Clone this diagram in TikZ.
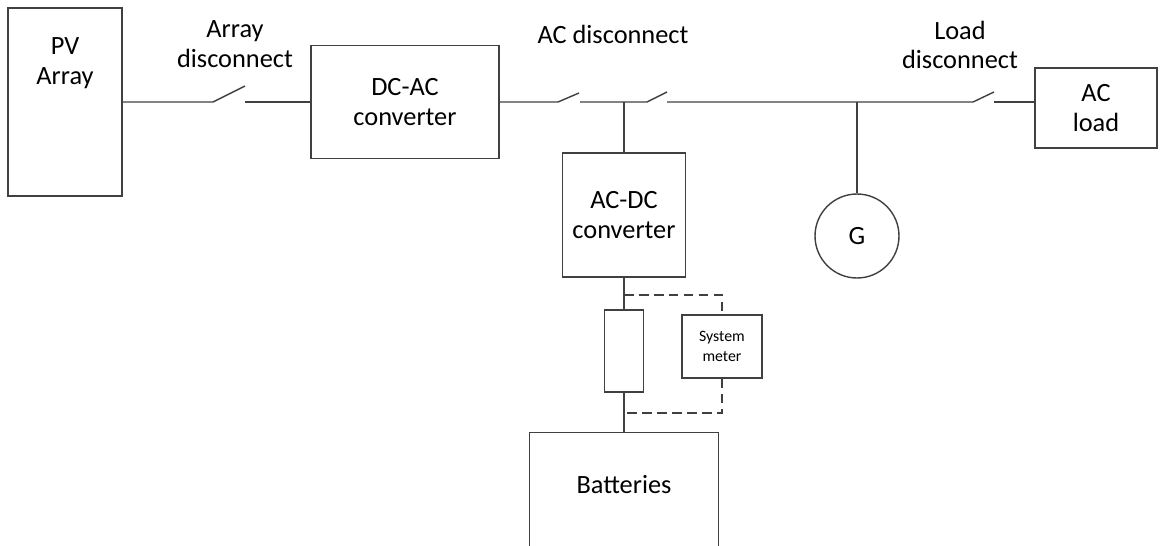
\documentclass[tikz,border=0pt]{standalone}
\usepackage{fontspec}
\setmainfont{Carlito}
\usetikzlibrary{positioning}

\definecolor{linegray}{RGB}{64,64,64}

\begin{document}
\begin{tikzpicture}[
x=0.02cm, y=-0.02cm,
wire/.style={draw=linegray, line width=0.8pt},
mybox/.style={rectangle,
  wire,
  inner sep=0pt,
  align=center,
  font=\fontsize{15}{17}\selectfont
},
mylabel/.style={align=center,
  inner sep=0pt,
  font=\fontsize{15}{17}\selectfont
},
meterdash/.style={wire, dash pattern=on 5.5pt off 3pt}
]
\useasboundingbox (0,0) rectangle (1164,545);

% boxes
\node[mybox, minimum width=2.28cm, minimum height=3.76cm] (pv)
    at (65,102) {};
\node[mylabel] (pvtext) at (65,63) {PV\\Array};
\node[mybox, minimum width=3.76cm, minimum height=2.26cm] (dcac)
    at (405,102) {DC-AC\\converter};
\node[mybox, minimum width=2.46cm, minimum height=2.48cm] (acdc)
    at (624,215) {AC-DC\\converter};
\node[mybox, minimum width=2.44cm, minimum height=1.6cm] (acload)
    at (1096,108) {AC\\load};
\node[mybox, circle, minimum size=1.68cm] (g)
    at (857,236) {G};
\node[mybox, minimum width=0.78cm, minimum height=1.64cm] (res)
    at (624,351) {};
\node[mybox, minimum width=1.6cm, minimum height=1.26cm,
  font=\fontsize{9}{11}\selectfont] (meter)
    at (722,346.5) {System\\meter};
\node[mybox, minimum width=3.78cm, minimum height=2.6cm, anchor=north] (batt)
    at (624,432) {};
\node[mylabel] (batttext) at (624,485) {Batteries};

% labels
\node[mylabel] (arraysw) at (235,44) {Array\\disconnect};
\node[mylabel] (acsw) at (613,34) {AC disconnect};
\node[mylabel] (loadsw) at (960,45) {Load\\disconnect};

% switch contacts
\coordinate (s1a) at (213,102);
\coordinate (s1b) at (245,102);
\coordinate (s2a) at (558,102);
\coordinate (s2b) at (580,102);
\coordinate (s3a) at (647,102);
\coordinate (s3b) at (667,102);
\coordinate (s4a) at (973,102);
\coordinate (s4b) at (994,102);

% main line
\draw[wire] (pv.east |- s1a) -- (s1a) -- ++(32,-16);
\draw[wire] (s1b) -- (dcac.west);
\draw[wire] (dcac.east) -- (s2a) -- ++(21,-9);
\draw[wire] (s2b) -- (s3a) -- ++(20,-10);
\draw[wire] (s3b) -- (s4a) -- ++(21,-10);
\draw[wire] (s4b) -- (s4b -| acload.west);

% branches
\draw[wire] (acdc.north) -- (acdc.north |- s2b);
\draw[wire] (g.north) -- (g.north |- s3b);
\draw[wire] (acdc.south) -- (res.north);
\draw[wire] (res.south) -- (batt.north);

% meter
\coordinate (m1) at (624,295);
\coordinate (m2) at (624,413);
\draw[meterdash] (m1) -| (meter.north);
\draw[meterdash] (meter.south) |- (m2);
\end{tikzpicture}
\end{document}
